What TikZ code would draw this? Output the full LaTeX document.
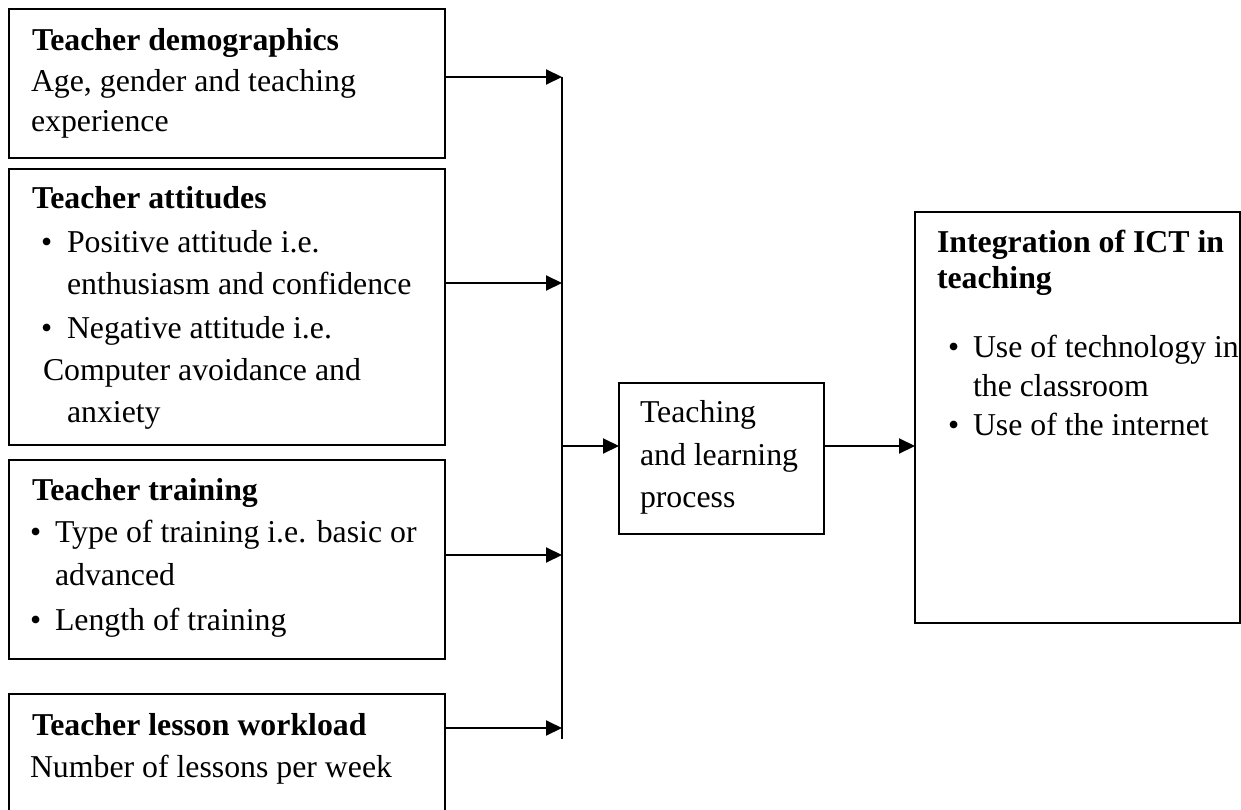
\documentclass[tikz,border=0pt]{standalone}
\usepackage{fontspec}
\setmainfont{Liberation Serif}
\usetikzlibrary{arrows.meta}
\tikzset{
  box/.style={draw, line width=2pt, rectangle, inner sep=0pt, outer sep=0pt, anchor=north west},
  txt/.style={anchor=base west, inner sep=0pt, outer sep=0pt, font=\fontsize{31.8}{38}\selectfont},
  btxt/.style={anchor=base west, inner sep=0pt, outer sep=0pt, font=\fontsize{31.8}{38}\selectfont\bfseries},
  arr/.style={line width=2pt, -{Triangle[length=16pt,width=15pt]}},
  ln/.style={line width=2pt},
}
\begin{document}
\begin{tikzpicture}[x=1pt,y=-1pt]
\useasboundingbox (0,0) rectangle (1241,810);
\clip (0,0) rectangle (1241,810);
% boxes
\node[box, minimum width=436pt, minimum height=149pt] (b1) at (9,9) {};
\node[box, minimum width=436pt, minimum height=276pt] (b2) at (9,169) {};
\node[box, minimum width=436pt, minimum height=199pt] (b3) at (9,460) {};
\node[box, minimum width=436pt, minimum height=140pt] (b4) at (9,694) {};
\node[box, minimum width=205pt, minimum height=151pt] (b5) at (619,383) {};
\node[box, minimum width=325pt, minimum height=411pt] (b6) at (915,212) {};
% texts box 1
\node[btxt] (t1a) at (32,51) {Teacher demographics};
\node[txt] (t1b) at (31,92) {Age, gender and teaching};
\node[txt] (t1c) at (31,132) {experience};
% box 2
\node[btxt] (t2a) at (32,209) {Teacher attitudes};
\node[txt] (t2b1) at (41,252) {•};
\node[txt] (t2b) at (67,252) {Positive attitude i.e.};
\node[txt] (t2c) at (67,294) {enthusiasm and confidence};
\node[txt] (t2d1) at (41,338) {•};
\node[txt] (t2d) at (67,338) {Negative attitude i.e.};
\node[txt] (t2e) at (43,380) {Computer avoidance and};
\node[txt] (t2f) at (67,422) {anxiety};
% box 3
\node[btxt] (t3a) at (32,500) {Teacher training};
\node[txt] (t3b1) at (30,542) {•};
\node[txt] (t3b) at (55,542) {Type of training i.e. basic or};
\node[txt] (t3c) at (55,585) {advanced};
\node[txt] (t3d1) at (30,630) {•};
\node[txt] (t3d) at (55,630) {Length of training};
% box 4
\node[btxt] (t4a) at (32,735) {Teacher lesson workload};
\node[txt] (t4b) at (30,777) {Number of lessons per week};
% box 5
\node[txt] (t5a) at (640,422) {Teaching};
\node[txt] (t5b) at (640,465) {and learning};
\node[txt] (t5c) at (640,507) {process};
% box 6
\node[btxt] (t6a) at (937,252) {Integration of ICT in};
\node[btxt] (t6b) at (937,288) {teaching};
\node[txt] (t6c1) at (948,357) {•};
\node[txt] (t6c) at (973,357) {Use of technology in};
\node[txt] (t6d) at (973,396) {the classroom};
\node[txt] (t6e1) at (948,435) {•};
\node[txt] (t6e) at (973,435) {Use of the internet};
% connectors
\coordinate (vtop) at (562,77);
\coordinate (j2) at (562,283);
\coordinate (j3) at (562,555);
\coordinate (j4) at (562,728);
\coordinate (vbot) at (562,739);
\coordinate (j5) at (562,446);
\draw[ln] (vtop) -- (vbot);
\draw[arr] (b1.east |- vtop) -- (vtop);
\draw[arr] (b2.east |- j2) -- (j2);
\draw[arr] (b3.east |- j3) -- (j3);
\draw[arr] (b4.east |- j4) -- (j4);
\draw[arr] (j5) -- (b5.west |- j5);
\draw[arr] (b5.east |- j5) -- (b6.west |- j5);
\end{tikzpicture}
\end{document}
